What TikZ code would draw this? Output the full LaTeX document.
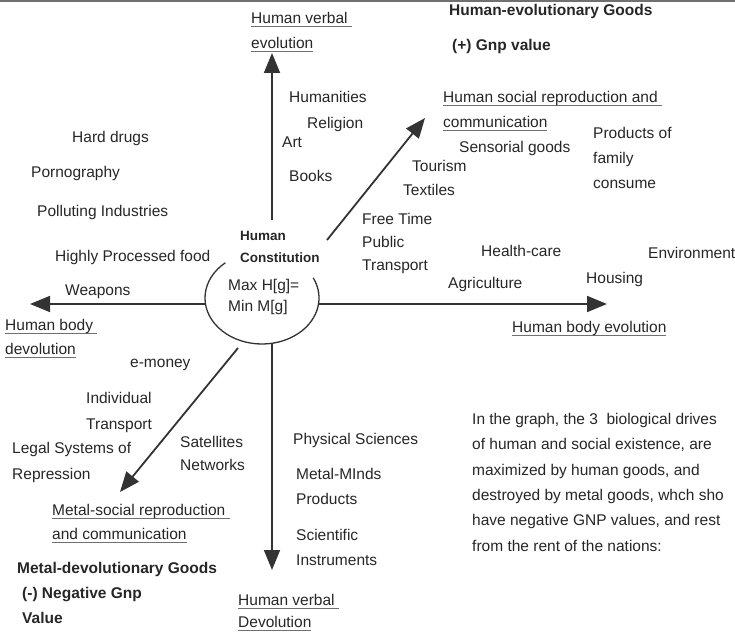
\documentclass[tikz,border=0pt]{standalone}
\usepackage{fontspec}
\setmainfont{Liberation Sans}
\usetikzlibrary{arrows.meta}
\definecolor{ink}{HTML}{262626}
\definecolor{axis}{HTML}{333333}
\definecolor{ulgray}{HTML}{707070}
\newcommand\ulin[1]{\setbox0=\hbox{#1}\rlap{\color{ulgray}\rule[-3.5pt]{\wd0}{1.3pt}}\box0}

\begin{document}
\begin{tikzpicture}[x=1pt, y=-1pt,
    lbl/.style={anchor=base west, inner sep=0pt, align=left, text=ink, font=\fontsize{15.5}{25}\selectfont},
    bold/.style={lbl, font=\fontsize{15.5}{25}\selectfont\bfseries},
    ax/.style={draw=axis, line width=1.8pt, -{Triangle[length=20pt,width=16pt]}},
    rim/.style={draw=axis, line width=1.3pt}]
    \useasboundingbox (0,0) rectangle (735,631);
    \fill[ulgray] (0,0) rectangle (735,2.5);

    % upper half
    \node[lbl] (hverb) at (251,48.5) {\ulin{Human verbal\ }\\\ulin{evolution}};
    \node[bold] (hgoods) at (449,15.5) {Human-evolutionary Goods};
    \node[bold] (hgnp) at (452,50.5) {(+) Gnp value};
    \node[lbl] (humanities) at (289,102.5) {Humanities};
    \node[lbl] (religion) at (307,128.5) {Religion};
    \node[lbl] (art) at (282,147.5) {Art};
    \node[lbl] (books) at (289,181.5) {Books};
    \node[lbl] (hsoc) at (443,127.5) {\ulin{Human social reproduction and\ }\\\ulin{communication}};
    \node[lbl] (sensorial) at (459,152.5) {Sensorial goods};
    \node[lbl] (family) at (593,188.5) {Products of\\family\\consume};
    \node[lbl] (tourism) at (412,171.5) {Tourism};
    \node[lbl] (textiles) at (403,195.5) {Textiles};
    \node[lbl] (freetime) at (362,224.5) {Free Time};
    \node[lbl, font=\fontsize{15.5}{23}\selectfont] (public) at (362,270.5) {Public\\Transport};

    % left side
    \node[lbl] (drugs) at (72,142.5) {Hard drugs};
    \node[lbl] (porn) at (31,177.5) {Pornography};
    \node[lbl] (polluting) at (37,216.5) {Polluting Industries};
    \node[lbl] (processed) at (55,261.5) {Highly Processed food};
    \node[lbl] (weapons) at (65,295.5) {Weapons};
    \node[lbl, font=\fontsize{15.5}{24}\selectfont] (hbody) at (5,354.5) {\ulin{Human body\ }\\\ulin{devolution}};

    % centre
    \node[lbl, font=\fontsize{13.5}{22}\selectfont\bfseries] (hc) at (240,262) {Human\\Constitution};
    \node[lbl, font=\fontsize{15.5}{21}\selectfont] (maxmin) at (228,311.5) {Max H[g]=\\Min M[g]};
    \coordinate (core) at (262,298);
    \draw[rim] (core) ++(130:57pt and 46pt) arc[start angle=130, end angle=386, x radius=57pt, y radius=46pt];

    % right side
    \node[lbl] (health) at (481,256.5) {Health-care};
    \node[lbl] (agri) at (448,288.5) {Agriculture};
    \node[lbl] (housing) at (586,283.5) {Housing};
    \node[lbl] (env) at (648,258.5) {Environment};
    \node[lbl] (hbodyev) at (512,332.5) {\ulin{Human body evolution}};

    % lower half
    \node[lbl] (emoney) at (130,367.5) {e-money};
    \node[lbl, font=\fontsize{15.5}{26}\selectfont] (indiv) at (86,429.5) {Individual\\Transport};
    \node[lbl, font=\fontsize{15.5}{26}\selectfont] (legal) at (12,479.5) {Legal Systems of\\Repression};
    \node[lbl, font=\fontsize{15.5}{23}\selectfont] (sat) at (180,470.5) {Satellites\\Networks};
    \node[lbl, font=\fontsize{15.5}{24}\selectfont] (msoc) at (52,539.5) {\ulin{Metal-social reproduction\ }\\\ulin{and communication}};
    \node[bold] (mgoods) at (17,573.5) {Metal-devolutionary Goods};
    \node[bold] (mgnp) at (22,623.5) {(-) Negative Gnp\\Value};
    \node[lbl] (phys) at (293,444.5) {Physical Sciences};
    \node[lbl] (minds) at (296,504.5) {Metal-MInds\\Products};
    \node[lbl] (sci) at (296,565.5) {Scientific\\Instruments};
    \node[lbl, font=\fontsize{15.5}{22}\selectfont] (hverbdev) at (238,627.5) {\ulin{Human verbal\ }\\\ulin{Devolution}};
    \node[lbl, font=\fontsize{15.5}{25.3}\selectfont] (note) at (472,551)
        {In the graph, the 3\ \ biological drives\\of human and social existence, are\\maximized by human goods, and\\destroyed by metal goods, whch sho\\have negative GNP values, and rest\\from the rent of the nations:};

    % the six drives
    \coordinate (ringN) at (272,220);
    \coordinate (ringNE) at (327,240);
    \coordinate (ringW) at (205,304);
    \coordinate (ringE) at (318,304);
    \coordinate (ringS) at (272,344);
    \coordinate (ringSW) at (238,348);
    \coordinate (toN) at (272,53);
    \coordinate (toNE) at (425,118);
    \coordinate (toW) at (30,304);
    \coordinate (toE) at (607,304);
    \coordinate (toS) at (272,570);
    \coordinate (toSW) at (120,492);

    \path
        (ringN) edge[ax] (toN)
        (ringNE) edge[ax] (toNE)
        (ringW) edge[ax] (toW)
        (ringE) edge[ax] (toE)
        (ringS) edge[ax] (toS)
        (ringSW) edge[ax] (toSW)
    ;
\end{tikzpicture}
\end{document}
